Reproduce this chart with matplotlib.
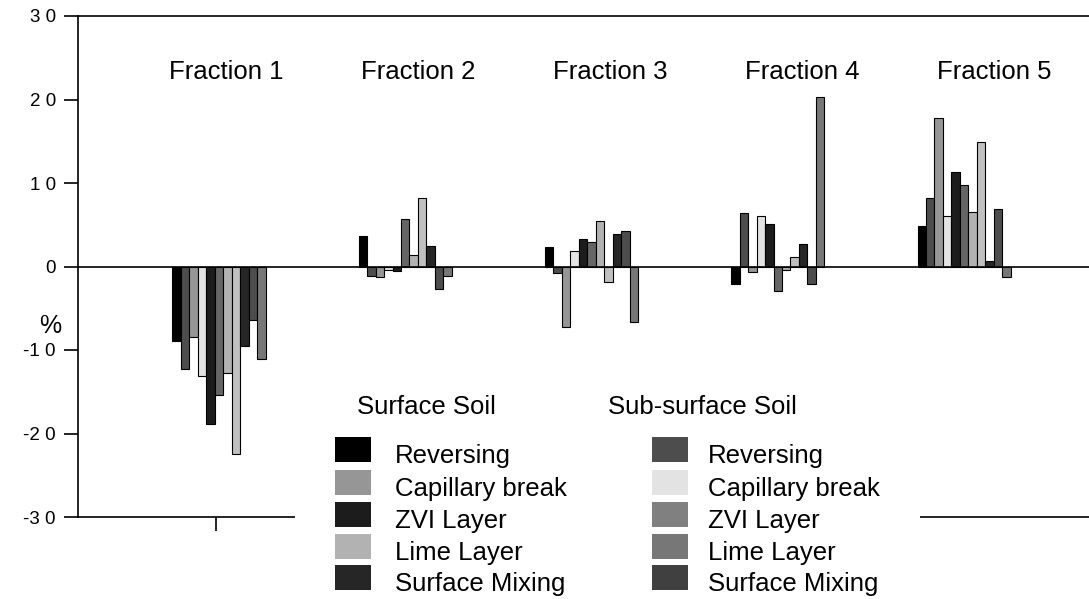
import matplotlib
matplotlib.use("Agg")
import matplotlib.pyplot as plt
import matplotlib.patches as patches
import numpy as np

plt.rcParams['font.family'] = ['Liberation Sans', 'DejaVu Sans']

# data (% change per fraction, 11 bars per group)
fractions = ['Fraction 1', 'Fraction 2', 'Fraction 3', 'Fraction 4', 'Fraction 5']
frac1 = [-8.9, -12.3, -8.4, -13.1, -18.9, -15.4, -12.7, -22.4, -9.5, -6.4, -11.1]
frac2 = [3.7, -1.1, -1.3, -0.4, -0.5, 5.7, 1.4, 8.2, 2.5, -2.7, -1.1]
frac3 = [2.3, -0.8, -7.2, 1.9, 3.3, 2.9, 5.5, -1.9, 3.9, 4.3, -6.6]
frac4 = [-2.1, 6.4, -0.6, 6.1, 5.1, -2.9, -0.4, 1.1, 2.7, -2.1, 20.3]
frac5 = [4.9, 8.2, 17.8, 6.0, 11.3, 9.8, 6.5, 14.9, 0.6, 6.9, -1.3]
bar_colors = ['#000000', '#4d4d4d', '#969696', '#e3e3e3', '#1c1c1c', '#666666',
              '#b2b2b2', '#c0c0c0', '#262626', '#4d4d4d', '#777777']

legend_titles = ['Surface Soil', 'Sub-surface Soil']
legend_labels = ['Reversing', 'Capillary break', 'ZVI Layer', 'Lime Layer', 'Surface Mixing']
surface_colors = ['#000000', '#969696', '#1c1c1c', '#b2b2b2', '#262626']
subsurface_colors = ['#4d4d4d', '#e3e3e3', '#808080', '#777777', '#404040']

yticks = [30, 20, 10, 0, -10, -20, -30]
ytick_labels = ['3 0', '2 0', '1 0', '0', '-1 0', '-2 0', '-3 0']

W, H = 1089, 599
fig = plt.figure(figsize=(W / 100, H / 100), dpi=100)
ax = fig.add_axes([78 / W, (H - 517) / H, 1 - 78 / W, (517 - 16) / H])

data = np.array([frac1, frac2, frac3, frac4, frac5])
nbar = data.shape[1]
bw = 0.0454
x = np.arange(len(fractions))
for j in range(nbar):
    offs = (j - (nbar - 1) / 2) * bw
    ax.bar(x + offs, data[:, j], width=bw, color=bar_colors[j],
           edgecolor='black', linewidth=0.8, zorder=3)

ax.axhline(0, color='black', lw=1.2, zorder=4)

for i, name in enumerate(fractions):
    ax.text(i * 1.03 + 0.04, 23.3, name, ha='center', va='center', fontsize=18.5)

ax.set_xlim(-0.757, 4.671)
ax.set_ylim(-30, 30)
ax.set_yticks(yticks)
ax.set_yticklabels(ytick_labels, fontsize=13.5)
ax.set_xticks([-0.016])
ax.set_xticklabels([''])
ax.tick_params(axis='both', direction='out', length=10, width=1.2, pad=6)
for s in ['left', 'top', 'bottom']:
    ax.spines[s].set_linewidth(1.2)
ax.spines['right'].set_visible(False)

fig.text(50 / W, 1 - 326 / H, '%', ha='center', va='center', fontsize=18)

# legend block, white box covers the bottom axis line
fig.patches.append(patches.Rectangle((295 / W, 0), 625 / W, (H - 392) / H,
                                     transform=fig.transFigure, facecolor='white',
                                     edgecolor='none', zorder=5))
cols = [(335, 395, surface_colors), (652, 708, subsurface_colors)]
title_x = [357, 608]
rows = [456, 489, 521, 553, 584]
for (px, tx, cl), title, ttx in zip(cols, legend_titles, title_x):
    fig.text(ttx / W, 1 - 407 / H, title, ha='left', va='center', fontsize=18.5, zorder=6)
    for ry, lab, c in zip(rows, legend_labels, cl):
        fig.patches.append(patches.Rectangle((px / W, 1 - (ry + 6) / H), 36 / W, 25 / H,
                                             transform=fig.transFigure, facecolor=c,
                                             edgecolor='none', zorder=6))
        fig.text(tx / W, 1 - ry / H, lab, ha='left', va='center', fontsize=18.5, zorder=6)

fig.savefig('out.png', dpi=100)
